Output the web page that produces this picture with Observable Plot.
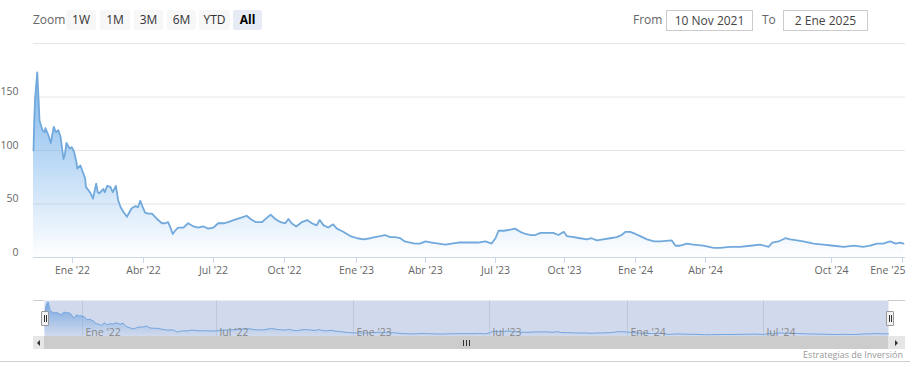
<!DOCTYPE html>
<html>
<head>
<meta charset="utf-8">
<script src="https://cdn.jsdelivr.net/npm/d3@7"></script>
<script src="https://cdn.jsdelivr.net/npm/@observablehq/plot@0.6"></script>
<style>
  html, body { margin: 0; padding: 0; background: #fff; }
  #wrap { position: relative; width: 910px; height: 378px; font-family: "Open Sans", "DejaVu Sans", sans-serif; overflow: hidden; }
  .abs { position: absolute; }
  .btn { position: absolute; top: 10px; height: 20px; line-height: 20px; background: #f7f7f7; color: #333; font-size: 12px; text-align: center; border-radius: 2px; }
  .btn.sel { background: #e6ebf5; font-weight: bold; color: #000; }
  .lbl { position: absolute; top: 10px; height: 20px; line-height: 20px; color: #666; font-size: 12px; }
  .inp { position: absolute; top: 10px; height: 19px; line-height: 19px; border: 1px solid #cccccc; color: #444; font-size: 12px; text-align: center; background: #fff; }
  .handle { position: absolute; top: 311px; width: 6px; height: 13px; background: #f2f2f2; border: 1px solid #999; border-radius: 1px; }
  .handle::before, .handle::after { content: ""; position: absolute; top: 3px; width: 1px; height: 7px; background: #333; }
  .handle::before { left: 2px; } .handle::after { left: 4px; }
</style>
</head>
<body>
<div id="wrap">
  <div id="main" class="abs" style="left:0;top:0"></div>
  <div id="nav" class="abs" style="left:0;top:290px"></div>

  <div class="lbl" style="left:33px">Zoom</div>
  <div class="btn" style="left:66px;width:30px">1W</div>
  <div class="btn" style="left:100px;width:30px">1M</div>
  <div class="btn" style="left:134px;width:29px">3M</div>
  <div class="btn" style="left:167px;width:29px">6M</div>
  <div class="btn" style="left:199px;width:31px">YTD</div>
  <div class="btn sel" style="left:233px;width:29px">All</div>

  <div class="lbl" style="left:633px">From</div>
  <div class="inp" style="left:666px;width:85px">10 Nov 2021</div>
  <div class="lbl" style="left:762px">To</div>
  <div class="inp" style="left:783px;width:83px">2 Ene 2025</div>

  <!-- navigator outline bits -->
  <div class="abs" style="left:33px;top:300px;width:11px;height:1px;background:#cccccc"></div>
  <div class="abs" style="left:888px;top:300px;width:17px;height:1px;background:#cccccc"></div>
  <div class="handle" style="left:41px"></div>
  <div class="handle" style="left:886px"></div>

  <!-- scrollbar -->
  <div class="abs" style="left:33px;top:336px;width:872px;height:13px;background:#f2f2f2"></div>
  <div class="abs" style="left:44px;top:336px;width:844px;height:13px;background:#cccccc"></div>
  <div class="abs" style="left:33px;top:336px;width:11px;height:13px;background:#e6e6e6"></div>
  <div class="abs" style="left:888px;top:336px;width:17px;height:13px;background:#e6e6e6"></div>
  <div class="abs" style="left:37px;top:340px;width:0;height:0;border-top:3px solid transparent;border-bottom:3px solid transparent;border-right:3px solid #333"></div>
  <div class="abs" style="left:895px;top:340px;width:0;height:0;border-top:3px solid transparent;border-bottom:3px solid transparent;border-left:3px solid #333"></div>
  <div class="abs" style="left:463px;top:340px;width:1px;height:6px;background:#333"></div>
  <div class="abs" style="left:466px;top:340px;width:1px;height:6px;background:#333"></div>
  <div class="abs" style="left:469px;top:340px;width:1px;height:6px;background:#333"></div>

  <div class="abs" style="left:0;top:361px;width:910px;height:1px;background:#d0d0d0"></div>
  <div class="abs" style="right:7px;top:349px;font-size:9px;color:#999;line-height:12px">Estrategias de Inversión</div>
</div>
<script>
// ---------- data ----------
const dates = [
"2021-11-10","2021-11-11","2021-11-12","2021-11-15","2021-11-17","2021-11-18","2021-11-22","2021-11-25","2021-11-26","2021-11-30",
"2021-12-03","2021-12-07","2021-12-10","2021-12-13","2021-12-16","2021-12-20","2021-12-22","2021-12-24","2021-12-28","2021-12-31",
"2022-01-03","2022-01-06","2022-01-07","2022-01-11","2022-01-13","2022-01-17","2022-01-18","2022-01-21","2022-01-24","2022-01-27",
"2022-01-31","2022-02-02","2022-02-04","2022-02-09","2022-02-11","2022-02-14","2022-02-18","2022-02-21","2022-02-25","2022-02-28",
"2022-03-03","2022-03-07","2022-03-11","2022-03-14","2022-03-17","2022-03-22","2022-03-25","2022-03-28","2022-03-31","2022-04-03",
"2022-04-07","2022-04-12","2022-04-16","2022-04-20","2022-04-25","2022-04-29","2022-05-03","2022-05-06","2022-05-09","2022-05-12",
"2022-05-16","2022-05-23","2022-05-29","2022-06-05","2022-06-11","2022-06-18","2022-06-24","2022-07-01","2022-07-07","2022-07-14",
"2022-07-20","2022-07-27","2022-08-05","2022-08-13","2022-08-18","2022-08-25","2022-09-02","2022-09-08","2022-09-13","2022-09-19",
"2022-09-26","2022-10-02","2022-10-06","2022-10-10","2022-10-16","2022-10-23","2022-10-30","2022-11-05","2022-11-11","2022-11-15",
"2022-11-20","2022-11-26","2022-12-02","2022-12-07","2022-12-15","2022-12-24","2023-01-02","2023-01-10","2023-01-19","2023-01-25",
"2023-02-01","2023-02-07","2023-02-14","2023-02-20","2023-02-27","2023-03-05","2023-03-12","2023-03-18","2023-03-25","2023-04-01",
"2023-04-09","2023-04-18","2023-04-27","2023-05-05","2023-05-14","2023-05-23","2023-05-31","2023-06-09","2023-06-18","2023-06-26",
"2023-07-01","2023-07-05","2023-07-12","2023-07-21","2023-07-27","2023-08-03","2023-08-10","2023-08-17","2023-08-23","2023-08-30",
"2023-09-07","2023-09-16","2023-09-23","2023-09-30","2023-10-04","2023-10-13","2023-10-21","2023-10-30","2023-11-05","2023-11-12",
"2023-11-20","2023-11-29","2023-12-08","2023-12-14","2023-12-19","2023-12-25","2024-01-01","2024-01-07","2024-01-16","2024-01-25",
"2024-02-02","2024-02-17","2024-02-22","2024-02-28","2024-03-08","2024-03-16","2024-03-29","2024-04-13","2024-04-22","2024-05-07",
"2024-05-21","2024-06-05","2024-06-19","2024-07-02","2024-07-07","2024-07-16","2024-07-26","2024-08-02","2024-08-12","2024-08-21",
"2024-09-05","2024-09-19","2024-10-04","2024-10-17","2024-10-30","2024-11-11","2024-11-20","2024-11-29","2024-12-07","2024-12-16",
"2024-12-23","2024-12-29","2025-01-02"
];
const values = [
100,127,147,173,144,128,119,117,121,114,
107,122,117,119,113,92,97,107,102,103,
99,89,83,86,82,74,66,63,60,55,
69,61,60,64,61,67,66,61,67,53,
47,42,38,42,46,48,47,53,47,42,
41,41,38,35,32,32,33,28,22,25,
28,28,32,29,28,29,27,28,32,32,
33,35,37,39,36,33,33,37,40,36,
33,32,36,32,29,33,35,32,30,35,
30,28,31,27,24,20,18,17,18,19,
20,21,19,19,18,15,14,13,13,15,
14,13,12,13,14,14,14,14,15,13,
18,25,25,26,27,24,22,21,21,23,
23,23,21,24,20,19,18,17,18,16,
17,18,19,21,24,24,22,20,17,15,
15,16,11,11,13,12,11,9,9,10,
10,11,12,10,14,15,18,17,16,15,
13,12,11,10,11,10,11,13,13,15,
13,14,13
];

// axis ticks and labels
const yTicks = [0, 50, 100, 150];
const yGrid = [50, 100, 150, 200];
const xTickDates = ["2022-01-01","2022-04-01","2022-07-01","2022-10-01","2023-01-01","2023-04-01","2023-07-01","2023-10-01","2024-01-01","2024-04-01","2024-10-01","2025-01-01"];
const xTickLabels = ["Ene '22","Abr '22","Jul '22","Oct '22","Ene '23","Abr '23","Jul '23","Oct '23","Ene '24","Abr '24","Oct '24","Ene '25"];
const navTickDates = ["2022-01-01","2022-07-01","2023-01-01","2023-07-01","2024-01-01","2024-07-01"];
const navTickLabels = ["Ene '22","Jul '22","Ene '23","Jul '23","Ene '24","Jul '24"];

// ---------- layout: ordinal-like (piecewise) time axes ----------
const mainKnots = ["2021-11-10", ...xTickDates, "2025-01-02"];
const mainKnotPx = [33, 72, 143, 213, 284, 356, 425, 495, 564, 635, 705, 831, 902, 903];
const navKnots = ["2021-11-10", ...navTickDates, "2025-01-02"];
const navKnotPx = [44, 82, 216, 353, 489, 627, 763, 888];

const FONT = '"Open Sans", "DejaVu Sans", sans-serif';
const data = dates.map((d, i) => ({date: new Date(d), value: values[i]}));
const xLabelMap = new Map(xTickDates.map((d, i) => [new Date(d).getTime(), xTickLabels[i]]));
const navTicks = navTickDates.map((d, i) => ({date: new Date(d), label: navTickLabels[i]}));
const xTicksAll = xTickDates.map(d => new Date(d));
const xTicksInner = xTicksAll.slice(0, -1);
const xTickLast = xTicksAll.slice(-1);

function addGradient(svg, id) {
  const ns = "http://www.w3.org/2000/svg";
  const defs = document.createElementNS(ns, "defs");
  const g = document.createElementNS(ns, "linearGradient");
  g.setAttribute("id", id);
  g.setAttribute("x1", "0"); g.setAttribute("y1", "0");
  g.setAttribute("x2", "0"); g.setAttribute("y2", "1");
  [["0", "1"], ["1", "0"]].forEach(([off, op]) => {
    const s = document.createElementNS(ns, "stop");
    s.setAttribute("offset", off);
    s.setAttribute("stop-color", "#7cb5ec");
    s.setAttribute("stop-opacity", op);
    g.appendChild(s);
  });
  defs.appendChild(g);
  svg.insertBefore(defs, svg.firstChild);
}

const main = Plot.plot({
  width: 910, height: 290,
  marginTop: 43, marginBottom: 33, marginLeft: 33, marginRight: 5,
  style: {background: "transparent", fontFamily: FONT, fontSize: "10.5px", color: "#666"},
  x: {type: "utc", domain: mainKnots.map(d => new Date(d)), range: mainKnotPx},
  y: {domain: [0, 200]},
  marks: [
    Plot.ruleY(yGrid, {stroke: "#e6e6e6", strokeOpacity: 1}),
    Plot.areaY(data, {x: "date", y: "value", fill: "url(#gMain)"}),
    Plot.lineY(data, {x: "date", y: "value", stroke: "#72a9dc", strokeWidth: 1.8}),
    Plot.ruleY([0], {stroke: "#ccd6eb", strokeOpacity: 1}),
    Plot.axisY({ticks: yTicks, tickSize: 0, tickPadding: 15, dy: -5, label: null, fill: "#666"}),
    Plot.axisX({ticks: xTicksInner, tickFormat: d => xLabelMap.get(d.getTime()), tickSize: 6, tickPadding: 3, stroke: "#ccd6eb", fill: "#666", label: null}),
    Plot.axisX({ticks: xTickLast, tickFormat: null, text: null, tickSize: 6, stroke: "#ccd6eb", label: null}),
    Plot.axisX({ticks: xTickLast, tickFormat: d => xLabelMap.get(d.getTime()), tickSize: 0, tickPadding: 9, textAnchor: "end", dx: 3, fill: "#666", label: null})
  ]
});
addGradient(main, "gMain");
document.getElementById("main").appendChild(main);

const nav = Plot.plot({
  width: 910, height: 80,
  marginTop: 10, marginBottom: 34, marginLeft: 44, marginRight: 22,
  style: {background: "transparent", fontFamily: FONT, fontSize: "10.5px", color: "#999"},
  x: {type: "utc", domain: navKnots.map(d => new Date(d)), range: navKnotPx, axis: null},
  y: {domain: [0, 180], axis: null},
  marks: [
    Plot.ruleX(navTicks, {x: "date", stroke: "#e6e6e6", strokeOpacity: 1}),
    Plot.areaY(data, {x: "date", y: "value", fill: "url(#gNav)"}),
    Plot.lineY(data, {x: "date", y: "value", stroke: "#7cb5ec", strokeWidth: 1}),
    Plot.frame({fill: "rgba(102,133,194,0.3)", stroke: null}),
    Plot.text(navTicks, {x: "date", text: "label", frameAnchor: "bottom", textAnchor: "start", lineAnchor: "bottom", dx: 3, dy: -1, fill: "#888"})
  ]
});
addGradient(nav, "gNav");
document.getElementById("nav").appendChild(nav);
</script>
</body>
</html>
